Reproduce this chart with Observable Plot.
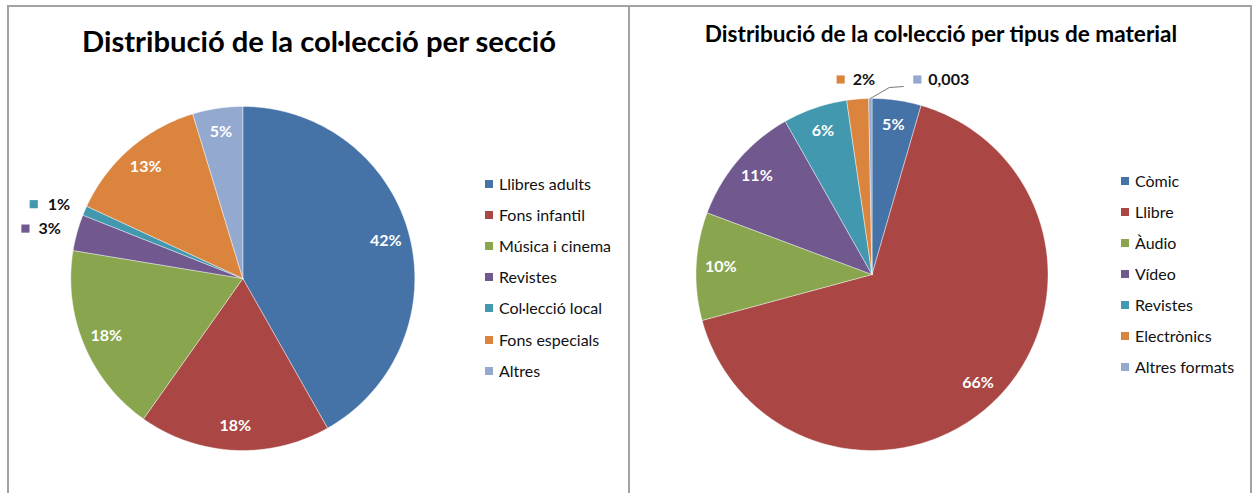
<!DOCTYPE html>
<html><head><meta charset="utf-8">
<script src="https://cdn.jsdelivr.net/npm/d3@7"></script>
<script src="https://cdn.jsdelivr.net/npm/@observablehq/plot@0.6"></script>
<style>
body{margin:0;background:#fff;}
#wrap{position:relative;width:1252px;height:493px;overflow:hidden;font-family:Lato, "Open Sans", sans-serif;background:#fff;}
.bd{position:absolute;background:#a3a3a3;z-index:5;}
.panel{position:absolute;top:0;height:493px;}
.title{position:absolute;text-align:center;font-weight:bold;color:#000;white-space:nowrap;transform:translate(-50%,-50%);}
.leg{position:absolute;white-space:nowrap;font-size:16px;color:#111;transform:translateY(-50%);line-height:18px;}
.leg .sw{position:absolute;width:8px;height:8px;top:5px;}
</style></head>
<body>
<div id="wrap">
  <div class="bd" style="left:7px;top:5px;width:1245px;height:2px;"></div>
  <div class="bd" style="left:7px;top:5px;width:2px;height:488px;"></div>
  <div class="bd" style="left:628px;top:5px;width:2px;height:488px;"></div>
  <div class="bd" style="left:1250px;top:5px;width:2px;height:488px;"></div>
  <div class="panel" id="p1" style="left:0;width:629px;"></div>
  <div class="panel" id="p2" style="left:630px;width:622px;"></div>
</div>
<script>
// ---- data ----
const sectionTitle = "Distribució de la col·lecció per secció";
const sectionCategories = ["Llibres adults","Fons infantil","Música i cinema","Revistes","Col·lecció local","Fons especials","Altres"];
const sectionValues = [41.8, 18.0, 17.8, 3.4, 0.9, 13.4, 4.7];
const sectionLabels = ["42%","18%","18%","3%","1%","13%","5%"];

const materialTitle = "Distribució de la col·lecció per tipus de material";
const materialCategories = ["Còmic","Llibre","Àudio","Vídeo","Revistes","Electrònics","Altres formats"];
const materialValues = [4.5, 66.3, 9.9, 11.1, 5.9, 2.0, 0.3];
const materialLabels = ["5%","66%","10%","11%","6%","2%","0,003"];

const colors = ["#4572A7","#AA4643","#89A54E","#71588F","#4198AF","#DB843D","#93A9CF"];

// ---- drawing ----
function piePlot(cfg) {
  const {categories, values, labels, cx, cy, r, width, outside, leader} = cfg;
  const arcs = d3.pie().sort(null).value(d => d)(values);
  const pts = [];
  arcs.forEach((a, i) => {
    const key = categories[i];
    pts.push({key, x: 0, y: 0});
    const n = Math.max(2, Math.ceil((a.endAngle - a.startAngle) / (2 * Math.PI) * 400));
    for (let k = 0; k <= n; k++) {
      const t = a.startAngle + (a.endAngle - a.startAngle) * k / n;
      pts.push({key, x: Math.sin(t), y: Math.cos(t)});
    }
    pts.push({key, x: 0, y: 0});
  });
  const mid = a => (a.startAngle + a.endAngle) / 2;
  const inside = arcs.map((a, i) => ({i, a})).filter(d => !(d.i in outside)).map(({i, a}) => ({
    x: 0.86 * Math.sin(mid(a)), y: 0.86 * Math.cos(mid(a)), text: labels[i]
  }));
  const keys = [], texts = [];
  for (const k in outside) {
    const a = arcs[k], o = outside[k];
    const ex = Math.sin(mid(a)), ey = Math.cos(mid(a));
    keys.push({x: ex + o.sq[0] / r, y: ey - o.sq[1] / r, key: categories[k]});
    texts.push({x: ex + o.tx[0] / r, y: ey - o.tx[1] / r, text: labels[k]});
  }
  let leaderPts = [];
  if (leader) {
    const a = arcs[leader.index];
    const ex = Math.sin(mid(a)), ey = Math.cos(mid(a));
    leaderPts = leader.path.map(([dx, dy]) => ({x: ex + dx / r, y: ey - dy / r}));
  }
  return Plot.plot({
    width, height: 493,
    margin: 0,
    style: {fontFamily: "Lato, 'Open Sans', sans-serif", background: "transparent"},
    x: {domain: [-1, 1], range: [cx - r, cx + r], axis: null},
    y: {domain: [-1, 1], range: [cy + r, cy - r], axis: null},
    color: {domain: categories, range: colors},
    marks: [
      Plot.line(pts, {x: "x", y: "y", z: "key", fill: "key", stroke: "white", strokeWidth: 0.6, strokeOpacity: 0.7, curve: "linear"}),
      Plot.text(inside, {x: "x", y: "y", text: "text", fill: "white", fontWeight: "bold", fontSize: 16}),
      Plot.dot(keys, {x: "x", y: "y", fill: "key", symbol: "square", r: 4.6, stroke: null}),
      Plot.text(texts, {x: "x", y: "y", text: "text", fill: "#111", fontWeight: "bold", fontSize: 16, textAnchor: "start"}),
      Plot.line(leaderPts, {x: "x", y: "y", stroke: "#555", strokeWidth: 0.8})
    ]
  });
}

function addTitle(panel, text, x, y, size) {
  const d = document.createElement("div");
  d.className = "title"; d.textContent = text;
  d.style.left = x + "px"; d.style.top = y + "px"; d.style.fontSize = size + "px";
  panel.appendChild(d);
}
function addLegend(panel, categories, x, y0, step) {
  categories.forEach((c, i) => {
    const d = document.createElement("div");
    d.className = "leg";
    d.style.left = x + "px"; d.style.top = (y0 + step * i) + "px";
    d.style.paddingLeft = "14px";
    const s = document.createElement("span");
    s.className = "sw"; s.style.left = "0px"; s.style.background = colors[i];
    d.appendChild(s);
    d.appendChild(document.createTextNode(c));
    panel.appendChild(d);
  });
}

const p1 = document.getElementById("p1");
p1.appendChild(piePlot({
  categories: sectionCategories, values: sectionValues, labels: sectionLabels,
  cx: 242.3, cy: 278, r: 172, width: 629,
  outside: {3: {sq: [-51.6, -4], tx: [-38.6, -4]}, 4: {sq: [-51, -6.5], tx: [-37, -6]}}
}));
addTitle(p1, sectionTitle, 319, 40, 29.2);
addLegend(p1, sectionCategories, 485, 184, 31.1);

const p2 = document.getElementById("p2");
p2.appendChild(piePlot({
  categories: materialCategories, values: materialValues, labels: materialLabels,
  cx: 241.5, cy: 274, r: 176, width: 622,
  outside: {5: {sq: [-17, -19.6], tx: [-5, -19.6]}, 6: {sq: [47, -19], tx: [58, -19]}},
  leader: {index: 6, path: [[0, 0], [19, -11], [33, -12]]}
}));
addTitle(p2, materialTitle, 311, 33, 22.6);
addLegend(p2, materialCategories, 491, 180.7, 31.1);
</script>
</body></html>
